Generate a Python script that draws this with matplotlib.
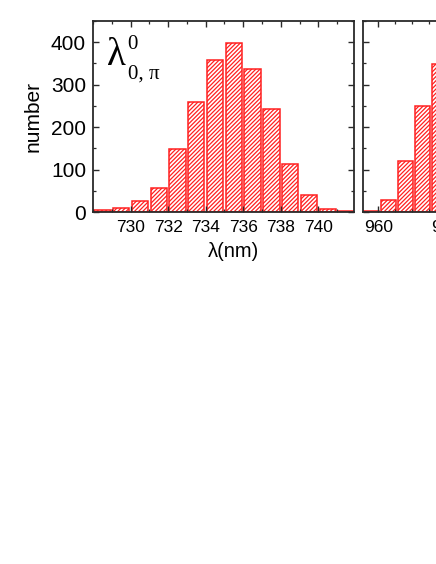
import matplotlib
matplotlib.use("Agg")
import matplotlib.pyplot as plt
from matplotlib.ticker import MultipleLocator

# 直方图数据
lam1 = [728.5, 729.5, 730.5, 731.5, 732.5, 733.5, 734.5, 735.5,
        736.5, 737.5, 738.5, 739.5, 740.5, 741.5]
cnt1 = [4, 9, 27, 57, 148, 260, 357, 399, 338, 242, 114, 40, 8, 2]
ticks1 = [730, 732, 734, 736, 738, 740]

lam2 = [959.6, 960.6, 961.6, 962.6, 963.6]
cnt2 = [2, 28, 120, 249, 348]
ticks2 = [960, 964, 968, 972]

plt.rcParams['font.family'] = ['Liberation Sans', 'DejaVu Sans']
plt.rcParams['hatch.linewidth'] = 0.9

fig = plt.figure(figsize=(4.36, 5.64), dpi=100)
W, H = 436, 564


def make_ax(left_px):
    ax = fig.add_axes([left_px / W, (H - 212) / H, 261 / W, 191 / H])
    for s in ax.spines.values():
        s.set_color('#2a2a2a')
        s.set_linewidth(1.3)
    ax.tick_params(which='both', direction='in', top=True, right=True,
                   color='#2a2a2a')
    ax.tick_params(which='major', length=4, width=1)
    ax.tick_params(which='minor', length=2.2, width=0.9)
    ax.tick_params(axis='x', labelsize=12.5, pad=6)
    ax.tick_params(axis='y', labelsize=15, pad=5)
    ax.set_ylim(0, 450)
    ax.yaxis.set_major_locator(MultipleLocator(100))
    ax.yaxis.set_minor_locator(MultipleLocator(50))
    return ax


ax1 = make_ax(93)
ax1.bar(lam1, cnt1, width=0.87, facecolor='white', edgecolor='#ff2020',
        hatch='////////', linewidth=1.1)
ax1.set_xlim(728, 741.9)
ax1.set_xticks(ticks1)
ax1.xaxis.set_minor_locator(MultipleLocator(1))
ax1.set_ylabel('number', fontsize=15, labelpad=6)
ax1.set_xlabel('λ(nm)', fontsize=14.5)
ax1.xaxis.set_label_coords(0.54, -0.155)

ax1.text(0.055, 0.77, 'λ', transform=ax1.transAxes, fontsize=28,
         family=['Liberation Serif', 'DejaVu Serif'])
ax1.text(0.13, 0.855, '0', transform=ax1.transAxes, fontsize=15,
         family=['Liberation Serif', 'DejaVu Serif'])
ax1.text(0.135, 0.70, '0, π', transform=ax1.transAxes, fontsize=15,
         family=['Liberation Serif', 'DejaVu Serif'])

ax2 = make_ax(363)
ax2.bar(lam2, cnt2, width=0.87, facecolor='white', edgecolor='#ff2020',
        hatch='////////', linewidth=1.1)
ax2.set_xlim(959.1, 974.5)
ax2.set_xticks(ticks2)
ax2.xaxis.set_minor_locator(MultipleLocator(1))
ax2.tick_params(axis='y', labelleft=False)

fig.savefig('out.png', dpi=100)
